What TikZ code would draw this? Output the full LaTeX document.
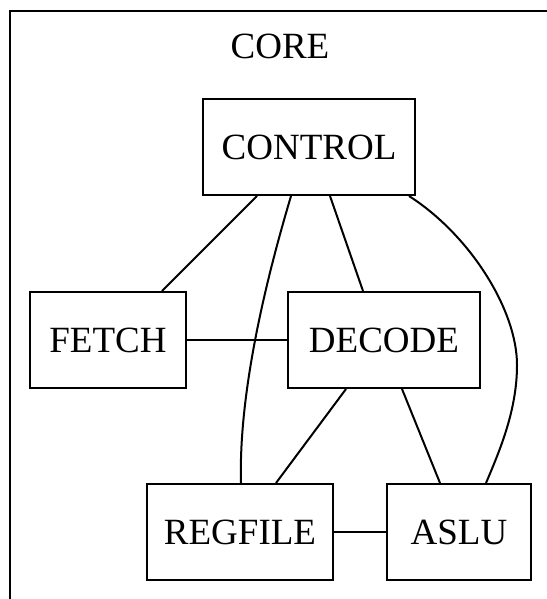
\documentclass[tikz,border=0pt]{standalone}
\usepackage{fontspec}
\setmainfont{Liberation Serif}
\begin{document}
\begin{tikzpicture}[x=1pt,y=-1pt,line width=2pt,
    block/.style={draw,rectangle,minimum height=96pt,inner sep=0pt,
        font=\fontsize{37}{44}\selectfont}]
    \useasboundingbox (0,0) rectangle (546,599);
    \draw (10,11) rectangle (570,620);
    \node(core) at (280,46) {\fontsize{37}{44}\selectfont CORE};
    \node[block,minimum width=212pt](control) at (309,147) {CONTROL};
    \node[block,minimum width=156pt](fetch) at (108,340) {FETCH};
    \node[block,minimum width=192pt](decode) at (384,340) {DECODE};
    \node[block,minimum width=186pt](regfile) at (240,532) {REGFILE};
    \node[block,minimum width=144pt](aslu) at (459,532) {ASLU};
    \draw (control.south west) ++(55,0) -- ([xshift=-25pt]fetch.north east);
    \draw ([xshift=21pt]control.south) -- ([xshift=-21pt]decode.north);
    \draw (fetch) -- (decode);
    \draw ([xshift=-38pt]decode.south) -- ([xshift=36pt]regfile.north);
    \draw ([xshift=18pt]decode.south) -- ([xshift=-19pt]aslu.north);
    \draw (regfile) -- (aslu);
    \draw ([xshift=-18pt]control.south) .. controls (275,250) and (238,380) .. ([xshift=1pt]regfile.north);
    \draw ([xshift=-7pt]control.south east) .. controls (470,235) and (517,310) .. (517,365)
        .. controls (517,410) and (500,450) .. ([xshift=27pt]aslu.north);
\end{tikzpicture}
\end{document}
